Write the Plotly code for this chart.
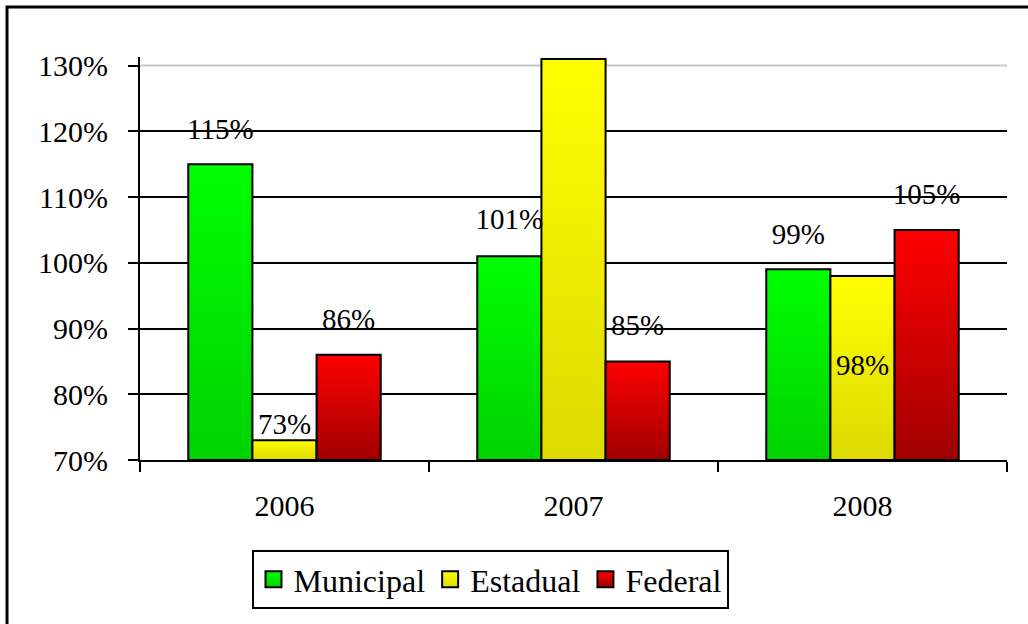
import plotly.graph_objects as go

# ---- data ----
years = ["2006", "2007", "2008"]
municipal = [115, 101, 99]
estadual = [73, 131, 98]
federal = [86, 85, 105]
series_names = ["Municipal", "Estadual", "Federal"]
y_ticks = [70, 80, 90, 100, 110, 120, 130]
y_ticktext = ["70%", "80%", "90%", "100%", "110%", "120%", "130%"]

# ---- styling ----
top_colors = ["#00FF00", "#FFFF00", "#FF0000"]
bottom_colors = ["#00D200", "#DCDA00", "#A00000"]
label_offsets = [[5.0, 5.2, 5.0], [2.0, 3.2, -14.0], [5.0, 5.1, 5.0]]
FONT = "Liberation Serif, Times New Roman, serif"
base = 70
bar_w = 0.222
offsets = [-bar_w, 0.0, bar_w]

fig = go.Figure()
all_series = [municipal, estadual, federal]
lx, ly, lt = [], [], []
for s, vals in enumerate(all_series):
    for i, v in enumerate(vals):
        xc = i + offsets[s]
        x0, x1 = xc - bar_w / 2, xc + bar_w / 2
        fig.add_trace(go.Scatter(
            x=[x0, x1, x1, x0, x0], y=[base, base, v, v, base],
            mode="lines", fill="toself",
            line=dict(color="black", width=2),
            fillgradient=dict(type="vertical",
                              colorscale=[[0, bottom_colors[s]], [1, top_colors[s]]]),
            showlegend=False, hoverinfo="skip"))
        lx.append(xc)
        ly.append(v + label_offsets[s][i])
        lt.append(f"{v}%")

fig.add_trace(go.Scatter(x=lx, y=ly, text=lt, mode="text", textposition="middle center",
                         textfont=dict(family=FONT, size=29, color="black"),
                         showlegend=False, hoverinfo="skip", cliponaxis=False))

for s, name in enumerate(series_names):
    fig.add_trace(go.Scatter(
        x=[None], y=[None], mode="markers", name=name,
        marker=dict(symbol="square", size=20, color=top_colors[s],
                    gradient=dict(type="vertical", color=bottom_colors[s]),
                    line=dict(color="black", width=2))))

# pixel helpers for paper coords
def px_x(p):
    return (p - 140) / 867

def px_y(p):
    return (460 - p) / 403

fig.update_layout(
    width=1028, height=624,
    margin=dict(l=140, r=21, t=57, b=164),
    paper_bgcolor="white", plot_bgcolor="white",
    font=dict(family=FONT, size=30, color="black"),
    showlegend=True,
    legend=dict(orientation="h", x=px_x(490), xanchor="center", y=px_y(550), yanchor="top",
                bordercolor="black", borderwidth=2, bgcolor="white",
                font=dict(family=FONT, size=32, color="black"),
                itemsizing="trace", tracegroupgap=0),
    xaxis=dict(range=[-0.5, 2.5], tickvals=[0, 1, 2], ticktext=years, ticks="",
               showgrid=False, zeroline=False, showline=True, linecolor="black", linewidth=2,
               ticklabelstandoff=18,
               minor=dict(tickvals=[-0.5, 0.5, 1.5, 2.5], ticks="outside", ticklen=10,
                          tickwidth=2, tickcolor="black", showgrid=False),
               tickfont=dict(family=FONT, size=30, color="black")),
    yaxis=dict(range=[70, 131.3], tickmode="array", tickvals=y_ticks, ticktext=y_ticktext,
               ticks="outside", ticklen=10, tickwidth=2, tickcolor="black",
               showgrid=False, zeroline=False,
               showline=True, linecolor="black", linewidth=2, ticklabelstandoff=14,
               minor=dict(tickvals=y_ticks[1:-1], showgrid=True, gridcolor="black",
                          gridwidth=2, ticks=""),
               tickfont=dict(family=FONT, size=30, color="black")),
    shapes=[
        dict(type="line", xref="paper", yref="y", x0=0, x1=1, y0=130, y1=130,
             line=dict(color="#C8C8C8", width=2), layer="below"),
        dict(type="rect", xref="paper", yref="paper", x0=px_x(7), x1=px_x(1045),
             y0=px_y(640), y1=px_y(7), line=dict(color="black", width=3),
             fillcolor="rgba(0,0,0,0)", layer="above"),
    ],
)

fig.write_html("out.html", config={"displayModeBar": False},
               post_script="document.body.style.margin='0';")
